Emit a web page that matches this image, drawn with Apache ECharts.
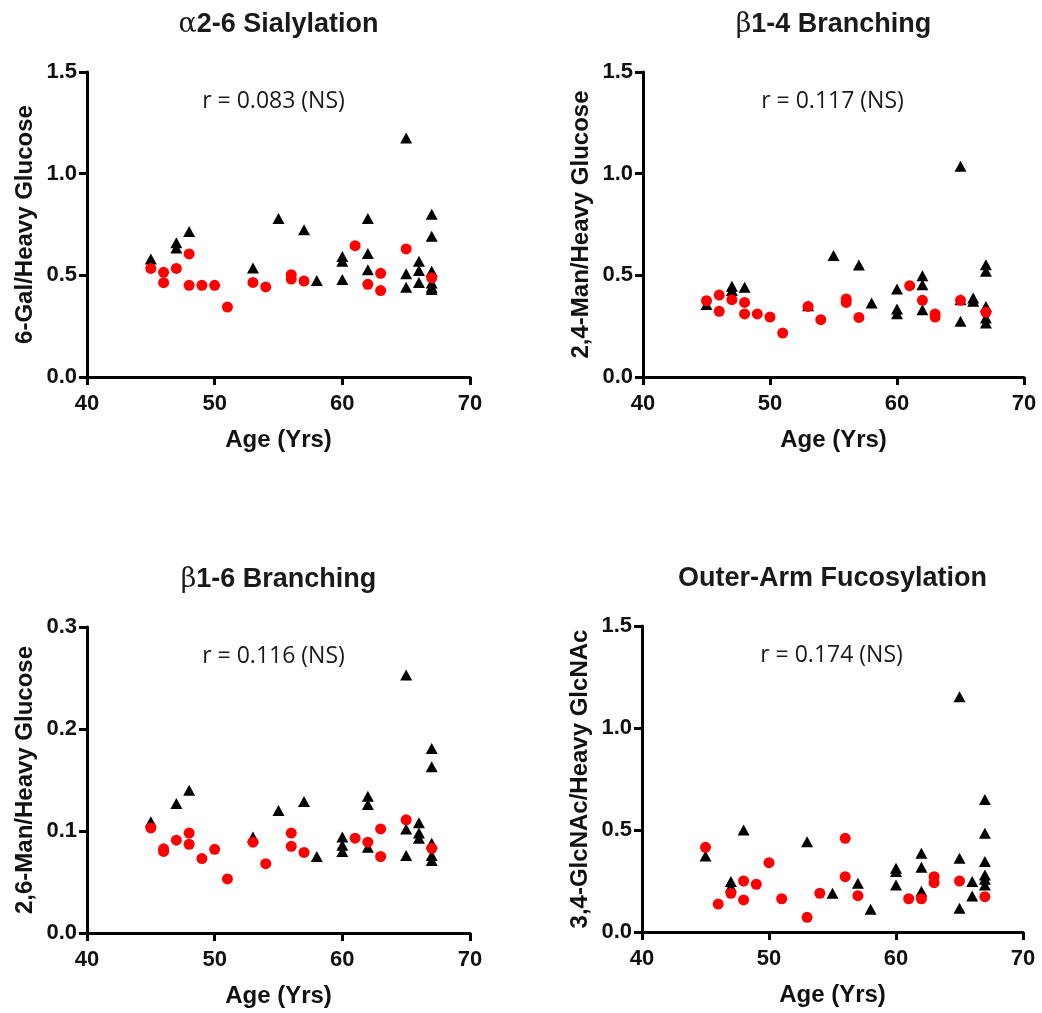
<!DOCTYPE html>
<html>
<head>
<meta charset="utf-8">
<script src="https://cdn.jsdelivr.net/npm/echarts@6/dist/echarts.min.js"></script>
<style>
html, body { margin: 0; padding: 0; background: #fff; }
#chart { width: 1042px; height: 1013px; }
</style>
</head>
<body>
<div id="chart"></div>
<script>
// a2-6 sialylation
var sialTriAge = [45,47,47,48,53,55,57,58,60,60,60,62,62,62,65,65,65,66,66,66,67,67,67,67,67,67]
var sialTri = [0.58,0.66,0.635,0.716,0.536,0.78,0.724,0.475,0.593,0.569,0.479,0.78,0.607,0.528,1.176,0.508,0.441,0.569,0.524,0.465,0.80,0.692,0.52,0.462,0.441,0.43]
var sialDotAge = [45,46,46,47,48,48,49,50,51,53,54,56,56,57,61,62,63,63,65,67]
var sialDot = [0.534,0.515,0.464,0.534,0.605,0.451,0.451,0.451,0.344,0.465,0.443,0.503,0.482,0.472,0.646,0.456,0.51,0.425,0.63,0.488]

// b1-4 branching
var b14TriAge = [45,47,47,48,53,55,57,58,60,60,60,62,62,62,65,65,65,66,66,67,67,67,67,67]
var b14Tri = [0.356,0.446,0.425,0.441,0.351,0.597,0.551,0.364,0.433,0.334,0.311,0.498,0.454,0.331,1.036,0.38,0.274,0.389,0.372,0.552,0.52,0.347,0.29,0.266]
var b14DotAge = [45,46,46,47,48,48,49,50,51,53,54,56,56,57,61,62,63,63,65,67]
var b14Dot = [0.375,0.403,0.323,0.38,0.367,0.31,0.31,0.295,0.216,0.347,0.282,0.383,0.367,0.293,0.449,0.377,0.31,0.295,0.377,0.318]

// b1-6 branching
var b16TriAge = [45,47,48,53,55,57,58,60,60,60,62,62,62,65,65,65,66,66,66,67,67,67,67,67]
var b16Tri = [0.109,0.127,0.140,0.094,0.120,0.129,0.075,0.094,0.086,0.080,0.134,0.126,0.084,0.253,0.102,0.076,0.108,0.098,0.093,0.181,0.163,0.088,0.076,0.071]
var b16DotAge = [45,46,46,47,48,48,49,50,51,53,54,56,56,57,61,62,63,63,65,67]
var b16Dot = [0.103,0.0825,0.080,0.091,0.098,0.087,0.073,0.082,0.053,0.089,0.068,0.098,0.085,0.079,0.093,0.089,0.102,0.075,0.111,0.083]

// outer-arm fucosylation
var fucTriAge = [45,47,47,48,53,55,57,58,60,60,60,62,62,62,65,65,65,66,66,67,67,67,67,67,67]
var fucTri = [0.373,0.247,0.222,0.50,0.443,0.19,0.239,0.111,0.312,0.296,0.23,0.386,0.317,0.20,1.153,0.361,0.116,0.247,0.176,0.65,0.484,0.345,0.279,0.258,0.23]
var fucDotAge = [45,46,47,48,48,49,50,51,53,54,56,56,57,61,62,63,63,65,67]
var fucDot = [0.415,0.137,0.19,0.25,0.157,0.234,0.34,0.163,0.072,0.19,0.459,0.271,0.178,0.163,0.163,0.271,0.242,0.25,0.173]

var titles = ['{g|α}2-6 Sialylation', '{g|β}1-4 Branching', '{g|β}1-6 Branching', 'Outer-Arm Fucosylation']
var rLabels = ['r = 0.083 (NS)', 'r = 0.117 (NS)', 'r = 0.116 (NS)', 'r = 0.174 (NS)']
var yNames = ['6-Gal/Heavy Glucose', '2,4-Man/Heavy Glucose', '2,6-Man/Heavy Glucose', '3,4-GlcNAc/Heavy GlcNAc']
var yMax = [1.5, 1.5, 0.3, 1.5]
var yStep = [0.5, 0.5, 0.1, 0.5]
var xTicks = [40, 50, 60, 70]

var panels = [
    [sialTriAge, sialTri, sialDotAge, sialDot],
    [b14TriAge, b14Tri, b14DotAge, b14Dot],
    [b16TriAge, b16Tri, b16DotAge, b16Dot],
    [fucTriAge, fucTri, fucDotAge, fucDot]
]

var grids = [
    {left: 87, top: 72, width: 383, height: 305},
    {left: 643, top: 72, width: 381, height: 305},
    {left: 87, top: 627, width: 383, height: 306},
    {left: 642, top: 626, width: 381, height: 306}
]
// small nudge of the r label off the panel centre
var rShift = [-5, -1, -5, -1]

var font = 'Liberation Sans, Arial, sans-serif'

function pairs(xs, ys) {
    return xs.map(function (x, i) { return [x, ys[i]] })
}

var xAxes = [], yAxes = [], series = [], graphics = []
grids.forEach(function (g, i) {
    xAxes.push({
        gridIndex: i, type: 'value',
        min: xTicks[0], max: xTicks[xTicks.length - 1], interval: 10,
        name: 'Age (Yrs)', nameLocation: 'middle', nameGap: 51,
        nameTextStyle: {fontFamily: font, fontWeight: 'bold', fontSize: 24, color: '#111'},
        axisLine: {onZero: false, lineStyle: {color: '#000', width: 3}},
        axisTick: {length: 8, lineStyle: {color: '#000', width: 3}},
        axisLabel: {margin: 16, fontFamily: font, fontWeight: 'bold', fontSize: 22, color: '#111'},
        splitLine: {show: false}
    })
    yAxes.push({
        gridIndex: i, type: 'value',
        min: 0, max: yMax[i], interval: yStep[i],
        name: yNames[i], nameLocation: 'middle', nameGap: 50,
        nameTextStyle: {fontFamily: font, fontWeight: 'bold', fontSize: 24, color: '#111'},
        axisLine: {onZero: false, lineStyle: {color: '#000', width: 3}},
        axisTick: {length: 8, lineStyle: {color: '#000', width: 3}},
        axisLabel: {margin: 10, fontFamily: font, fontWeight: 'bold', fontSize: 22, color: '#111',
            formatter: function (v) { return v.toFixed(1) }},
        splitLine: {show: false}
    })
    var p = panels[i]
    series.push({
        type: 'scatter', xAxisIndex: i, yAxisIndex: i,
        symbol: 'triangle', symbolSize: [12, 11],
        itemStyle: {color: '#000', opacity: 1},
        data: pairs(p[0], p[1])
    })
    series.push({
        type: 'scatter', xAxisIndex: i, yAxisIndex: i,
        symbol: 'circle', symbolSize: 11,
        itemStyle: {color: '#ff0000', opacity: 1},
        data: pairs(p[2], p[3])
    })
    var cx = g.left + g.width / 2
    graphics.push({
        type: 'text', x: cx, y: g.top - 47,
        style: {
            text: titles[i], align: 'center', verticalAlign: 'middle',
            font: 'bold 27px ' + font, fill: '#1a1a1a',
            rich: {g: {fontFamily: 'DejaVu Serif', fontWeight: 'normal', fontSize: 27, fill: '#1a1a1a'}}
        }
    })
    graphics.push({
        type: 'text', x: cx + rShift[i], y: g.top + 29,
        style: {
            text: rLabels[i], align: 'center', verticalAlign: 'middle',
            font: '23px Open Sans, sans-serif', fill: '#1a1a1a'
        }
    })
})

var chart = echarts.init(document.getElementById('chart'))
chart.setOption({
    animation: false,
    grid: grids,
    xAxis: xAxes,
    yAxis: yAxes,
    series: series,
    graphic: graphics
})
</script>
</body>
</html>
